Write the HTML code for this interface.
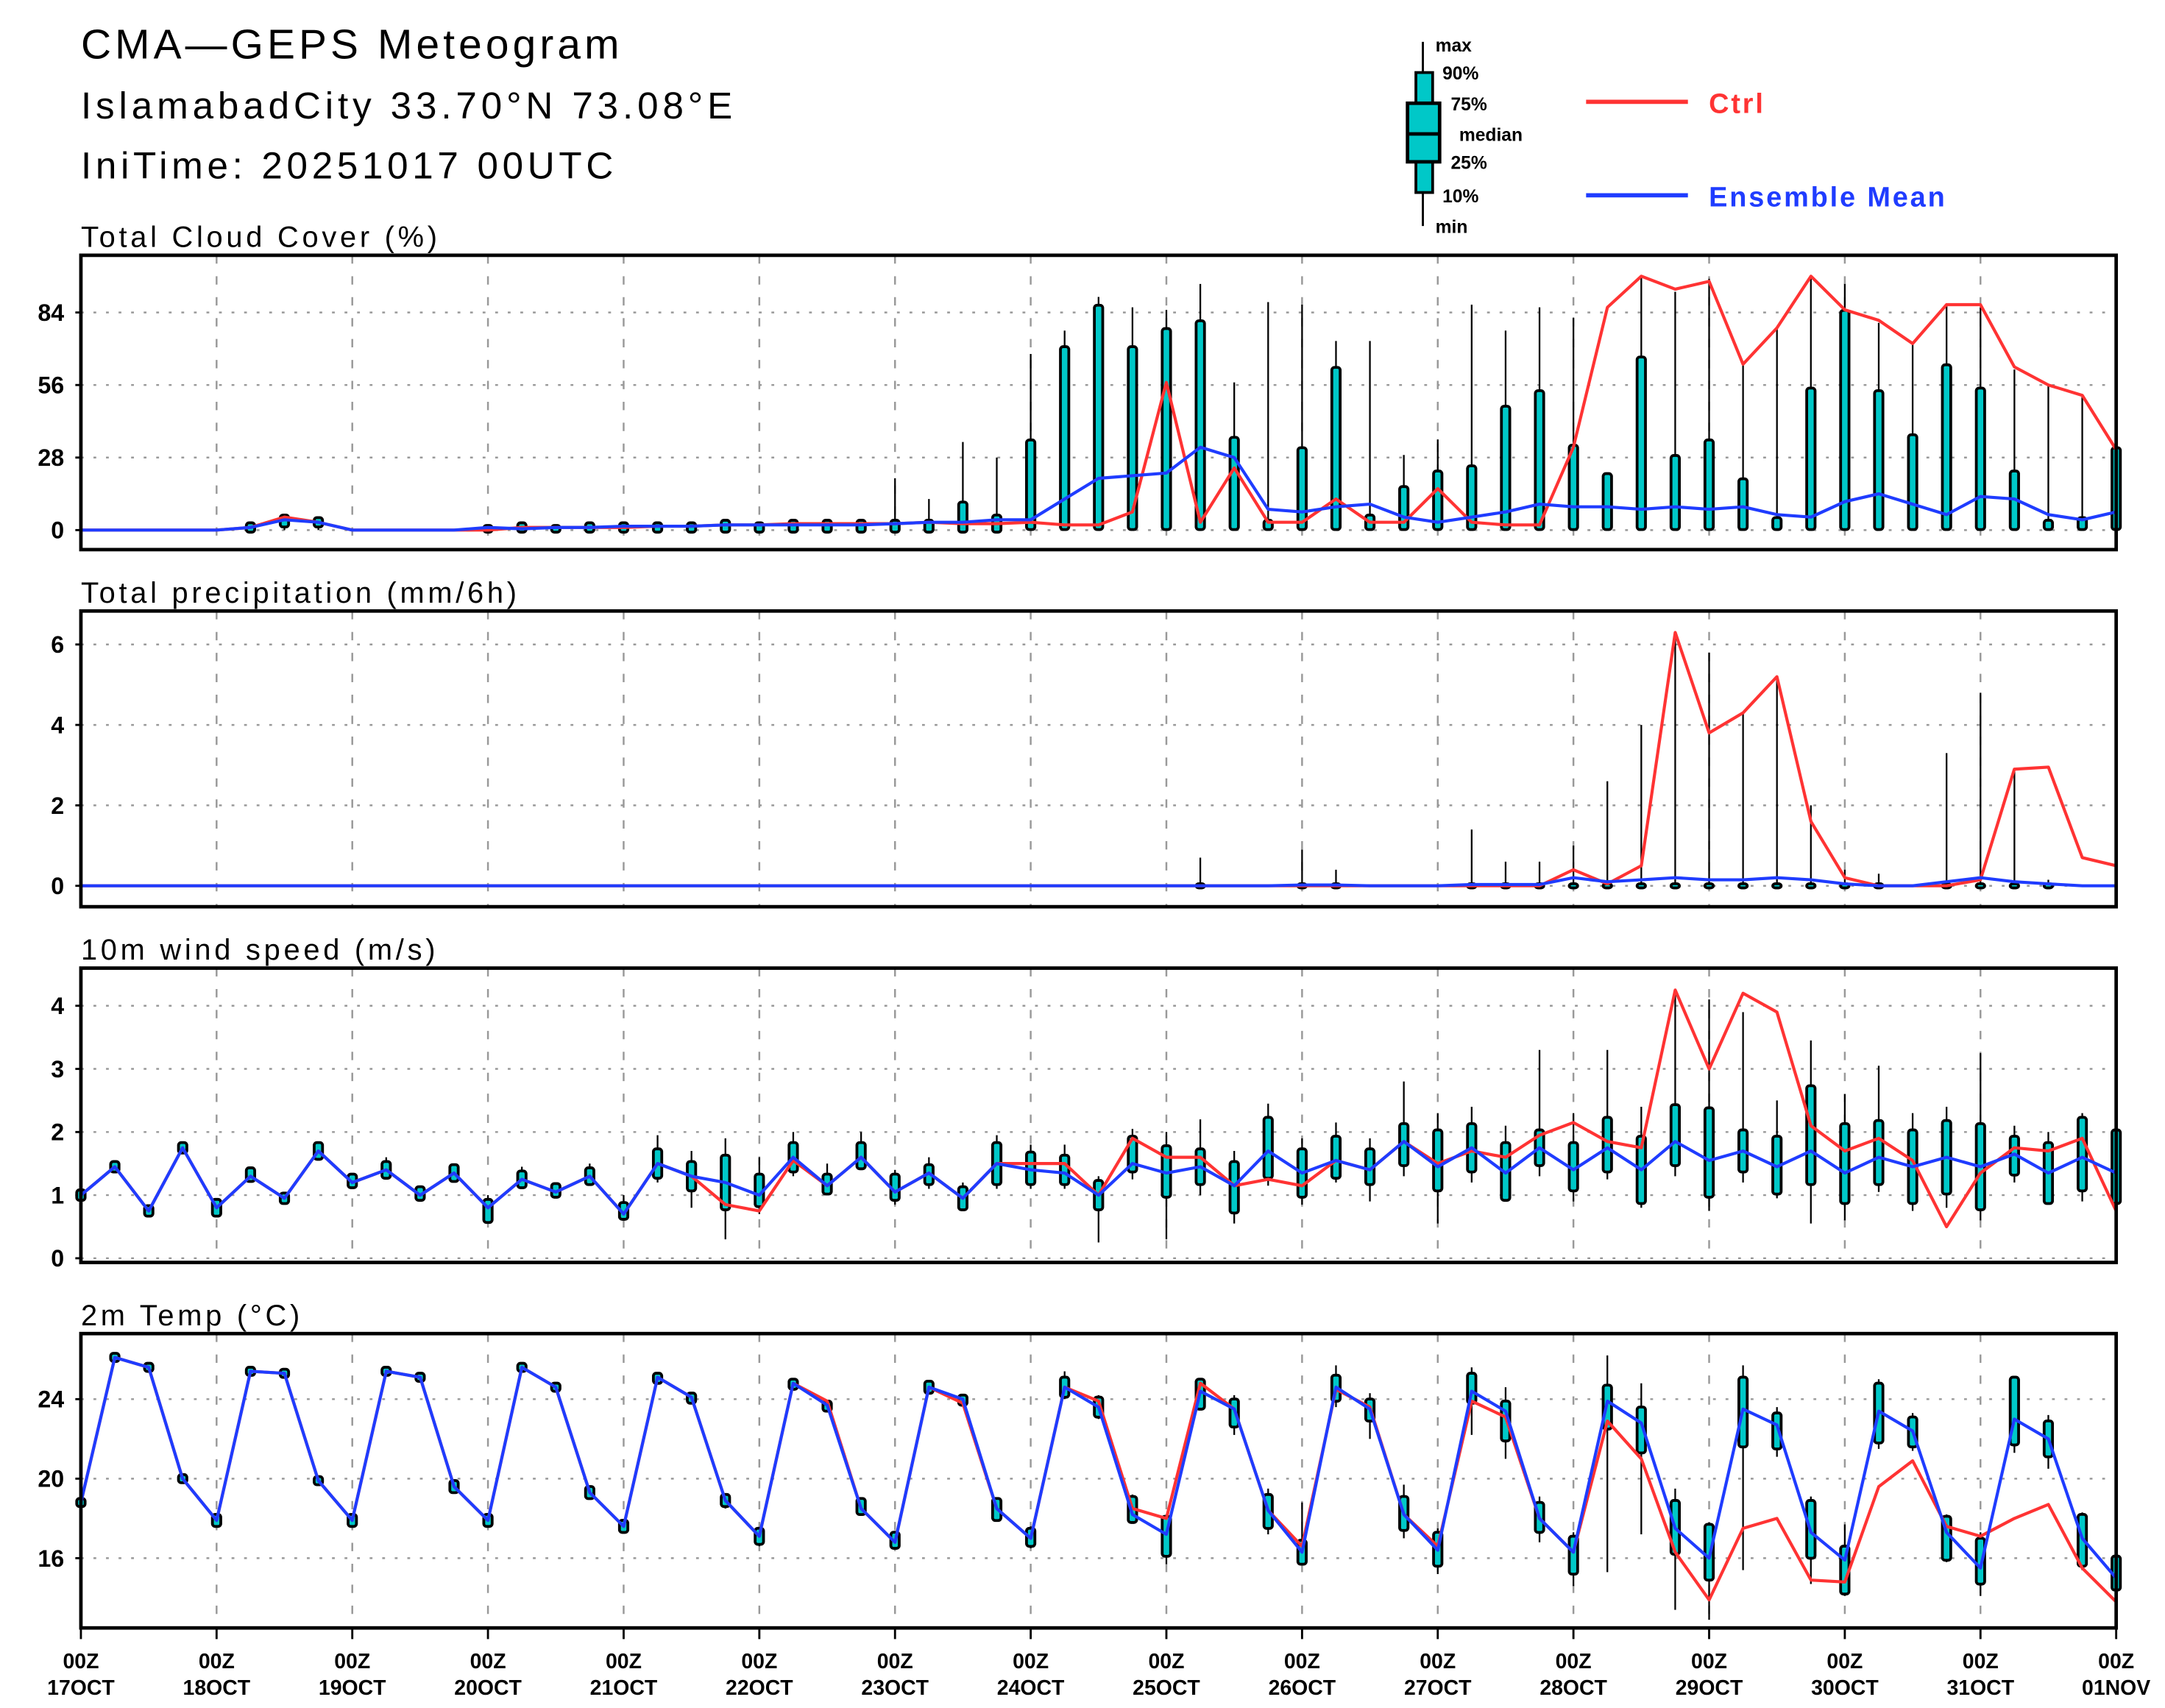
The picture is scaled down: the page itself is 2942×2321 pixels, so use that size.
<!DOCTYPE html>
<html><head><meta charset="utf-8"><style>
html,body{margin:0;padding:0;background:#fff}
svg{display:block}
text{font-family:"Liberation Sans",sans-serif}
</style></head><body>
<svg id="chart" width="2942" height="2321" viewBox="0 0 1552 1224.4" xmlns="http://www.w3.org/2000/svg">
<rect width="1552" height="1224.4" fill="#fff"/>
<g>
<text x="58" y="42" font-size="30" letter-spacing="2.7">CMA—GEPS Meteogram</text>
<text x="58" y="85" font-size="27" letter-spacing="3.1">IslamabadCity 33.70°N 73.08°E</text>
<text x="58" y="128" font-size="27" letter-spacing="3">IniTime: 20251017 00UTC</text>
</g>
<g font-size="13" font-weight="bold">
<line x1="1020" y1="30" x2="1020" y2="162" stroke="#000" stroke-width="1.5"/>
<rect x="1015" y="52" width="12" height="86" fill="#00c8c8" stroke="#000" stroke-width="2"/>
<rect x="1009" y="74" width="23" height="42" fill="#00c8c8" stroke="#000" stroke-width="2.5"/>
<line x1="1009" y1="96" x2="1032" y2="96" stroke="#000" stroke-width="2.5"/>
<text x="1029" y="37">max</text><text x="1034" y="57">90%</text><text x="1040" y="79">75%</text>
<text x="1046" y="101">median</text><text x="1040" y="121">25%</text><text x="1034" y="145">10%</text><text x="1029" y="167">min</text>
<line x1="1137" y1="73" x2="1210" y2="73" stroke="#f33" stroke-width="3"/>
<text x="1225" y="81" fill="#f33" font-size="20" letter-spacing="1.5">Ctrl</text>
<line x1="1137" y1="140" x2="1210" y2="140" stroke="#1f3cff" stroke-width="3"/>
<text x="1225" y="148" fill="#1f3cff" font-size="20" letter-spacing="1.5">Ensemble Mean</text>
</g>
<g id="plots"></g>
</svg>
<script>
const days = ["17OCT","18OCT","19OCT","20OCT","21OCT","22OCT","23OCT","24OCT","25OCT","26OCT","27OCT","28OCT","29OCT","30OCT","31OCT","01NOV"];
// Cloud cover
const cloudCtrl = [0,0,0,0,0,1,5,3,0,0, 0,0,0,1,1,1,1,1.5,1.5,2, 2,2.5,2.5,2.5,2.5,3,2.5,2.5,3,2, 2,7,57,3,24,3,3,12,3,3, 16,3,2,2,32,86,98,93,96,64, 78,98,85,81,72,87,87,63,56,52, 31];
const cloudMean = [0,0,0,0,0,1,4,3,0,0, 0,0,1,0.5,1,1,1.5,1.5,1.5,2, 2,2,2,2,2.5,3,3,4,4,12, 20,21,22,32,28,8,7,9,10,5, 3,5,7,10,9,9,8,9,8,9, 6,5,11,14,10,6,13,12,6,4, 7];
const cloudP90 = [0,0,0,0,0,2,5,4,0,0, 0,0,1,2,1,2,2,2,2,3, 2,3,3,3,3,3,10,5,34,70, 86,70,77,80,35,3,31,62,5,16, 22,24,47,53,32,21,66,28,34,19, 4,54,84,53,36,63,54,22,3,4, 31];
const cloudP10 = [0,0,0,0,0,0,2,2,0,0, 0,0,0,0,0,0,0,0,0,0, 0,0,0,0,0,0,0,0,1,1, 1,1,1,1,1,1,1,1,1,1, 1,1,1,1,1,1,1,1,1,1, 1,1,1,1,1,1,1,1,1,1, 1];
const cloudMax = [0,0,0,0,0,2,5,4,0,0, 0,0,2,2,2,3,2,2,2,3, 3,3,3,3,20,12,34,28,68,77, 90,86,85,95,57,88,87,73,73,29, 35,87,77,86,82,21,98,92,97,64, 78,98,95,80,72,87,86,62,56,52, 31];
// Precipitation
const precCtrl = [0,0,0,0,0,0,0,0,0,0, 0,0,0,0,0,0,0,0,0,0, 0,0,0,0,0,0,0,0,0,0, 0,0,0,0,0,0,0,0,0,0, 0,0,0,0,0.4,0.05,0.5,6.3,3.8,4.3, 5.2,1.6,0.2,0,0,0,0.15,2.9,2.95,0.7, 0.5];
const precMean = [0,0,0,0,0,0,0,0,0,0, 0,0,0,0,0,0,0,0,0,0, 0,0,0,0,0,0,0,0,0,0, 0,0,0,0,0,0,0.02,0.02,0,0, 0,0.03,0.03,0.03,0.2,0.1,0.15,0.2,0.15,0.15, 0.2,0.15,0.05,0,0,0.1,0.2,0.1,0.05,0, 0];
const precMax = [0,0,0,0,0,0,0,0,0,0, 0,0,0,0,0,0,0,0,0,0, 0,0,0,0,0,0,0,0,0,0, 0,0,0,0.7,0,0,0.9,0.4,0,0, 0,1.4,0.6,0.6,1.0,2.6,4.0,6.3,5.8,4.3, 5.2,2.0,0.4,0.3,0,3.3,4.8,2.9,0.15,0, 0];
// Wind
const windCtrl = [1.0,1.45,0.75,1.75,0.8,1.3,0.95,1.7,1.2,1.4, 1.0,1.35,0.8,1.25,1.05,1.3,0.7,1.5,1.3,0.85, 0.75,1.55,1.15,1.6,1.05,1.35,0.95,1.5,1.5,1.5, 1.0,1.9,1.6,1.6,1.15,1.25,1.15,1.55,1.4,1.85, 1.5,1.7,1.6,1.95,2.15,1.85,1.75,4.25,3.0,4.2, 3.9,2.1,1.7,1.9,1.55,0.5,1.35,1.75,1.7,1.9, 0.75];
const windMean = [1.0,1.45,0.75,1.75,0.8,1.3,0.95,1.7,1.2,1.4, 1.0,1.35,0.8,1.25,1.05,1.3,0.7,1.5,1.3,1.2, 1.0,1.6,1.15,1.6,1.05,1.35,0.95,1.5,1.4,1.35, 1.0,1.5,1.35,1.45,1.15,1.7,1.35,1.55,1.4,1.85, 1.45,1.75,1.35,1.75,1.4,1.75,1.4,1.85,1.55,1.7, 1.45,1.7,1.35,1.6,1.45,1.6,1.45,1.65,1.35,1.6, 1.35];
const windP90 = [1.05,1.5,0.8,1.8,0.9,1.4,1.0,1.8,1.3,1.5, 1.1,1.45,0.9,1.35,1.15,1.4,0.85,1.7,1.5,1.6, 1.3,1.8,1.3,1.8,1.3,1.45,1.1,1.8,1.65,1.6, 1.2,1.9,1.75,1.7,1.5,2.2,1.7,1.9,1.7,2.1, 2.0,2.1,1.8,2.0,1.8,2.2,1.9,2.4,2.35,2.0, 1.9,2.7,2.1,2.15,2.0,2.15,2.1,1.9,1.8,2.2, 2.0];
const windP10 = [0.95,1.4,0.7,1.7,0.7,1.25,0.9,1.6,1.15,1.3, 0.95,1.25,0.6,1.15,1.0,1.2,0.65,1.3,1.1,0.8, 0.85,1.4,1.05,1.45,0.95,1.2,0.8,1.2,1.2,1.2, 0.8,1.4,1.0,1.2,0.75,1.3,1.0,1.3,1.2,1.5, 1.1,1.4,0.95,1.5,1.1,1.4,0.9,1.5,1.0,1.4, 1.05,1.2,0.9,1.2,0.9,1.05,0.8,1.35,0.9,1.1, 0.9];
const windMax = [1.05,1.5,0.8,1.85,0.95,1.45,1.05,1.85,1.35,1.6, 1.15,1.5,1.0,1.45,1.2,1.5,1.0,1.95,1.7,1.9, 1.6,2.0,1.5,2.0,1.4,1.6,1.2,1.95,1.8,1.8, 1.3,2.05,2.0,2.2,1.7,2.45,1.9,2.15,1.9,2.8, 2.3,2.4,2.1,3.3,2.3,3.3,2.4,4.2,4.1,3.9, 2.5,3.45,2.6,3.05,2.3,2.4,3.25,2.1,2.0,2.3, 2.2];
const windMin = [0.95,1.4,0.7,1.65,0.65,1.2,0.85,1.55,1.1,1.25, 0.9,1.2,0.55,1.1,0.95,1.15,0.6,1.2,0.8,0.3, 0.7,1.3,1.0,1.4,0.85,1.1,0.75,1.1,1.1,1.1, 0.25,1.25,0.3,1.0,0.55,1.15,0.85,1.2,0.9,1.3, 0.55,1.2,0.9,1.3,0.9,1.25,0.8,1.3,0.75,1.2, 0.95,0.55,0.6,1.05,0.75,0.8,0.6,1.2,0.85,0.9, 0.85];
// Temperature
const tempCtrl = [18.8,26.1,25.6,20.0,17.9,25.4,25.3,19.9,17.9,25.4, 25.1,19.6,17.9,25.6,24.6,19.3,17.6,25.1,24.1,18.9, 17.1,24.8,23.9,18.5,16.8,24.6,23.8,18.5,17.0,24.6, 23.9,18.5,18.0,24.8,23.5,18.4,16.6,24.5,23.6,18.2, 16.6,23.9,23.1,18.0,16.3,22.9,21.0,16.3,13.9,17.5, 18.0,14.9,14.8,19.6,20.9,17.6,17.1,18.0,18.7,15.5, 13.8];
const tempMean = [18.8,26.1,25.6,20.0,17.9,25.4,25.3,19.9,17.9,25.4, 25.1,19.6,17.9,25.6,24.6,19.3,17.6,25.1,24.1,18.9, 17.1,24.8,23.7,18.5,16.8,24.6,24.0,18.5,17.0,24.6, 23.6,18.2,17.2,24.4,23.5,18.4,16.3,24.6,23.5,18.2, 16.4,24.4,23.4,18.0,16.3,23.9,22.8,17.5,16.0,23.5, 22.7,17.3,15.9,23.4,22.4,17.3,15.5,23.0,22.0,17.0, 15.0];
const tempP90 = [18.9,26.2,25.7,20.1,18.1,25.5,25.4,20.0,18.1,25.5, 25.2,19.8,18.1,25.7,24.7,19.5,17.8,25.2,24.2,19.1, 17.4,24.9,23.8,18.9,17.2,24.8,24.1,18.9,17.4,25.0, 24.0,19.0,18.0,24.9,23.9,19.1,16.8,25.1,23.9,19.0, 17.2,25.2,23.8,18.7,17.0,24.6,23.5,18.8,17.6,25.0, 23.2,18.8,16.5,24.7,23.0,18.0,16.9,25.0,22.8,18.1, 16.0];
const tempP10 = [18.7,26.0,25.5,19.9,17.7,25.3,25.2,19.8,17.7,25.3, 25.0,19.4,17.7,25.5,24.5,19.1,17.4,24.9,23.9,18.7, 16.8,24.6,23.5,18.3,16.6,24.4,23.8,18.0,16.7,24.2, 23.2,17.9,16.2,23.6,22.7,17.6,15.8,24.0,23.0,17.5, 15.7,23.9,22.0,17.4,15.3,22.6,21.4,16.3,15.0,21.7, 21.6,16.1,14.3,21.9,21.7,16.0,14.8,21.8,21.2,15.7, 14.5];
const tempMax = [18.9,26.2,25.7,20.1,18.1,25.5,25.4,20.0,18.1,25.5, 25.2,19.8,18.1,25.7,24.7,19.5,17.8,25.2,24.2,19.1, 17.4,24.9,23.8,19.0,17.3,24.9,24.2,19.0,17.6,25.4, 24.2,19.2,18.2,25.0,24.2,19.5,18.8,25.7,24.3,19.7, 17.5,25.6,24.6,19.1,17.3,26.2,24.8,19.5,17.8,25.7, 23.6,19.1,17.7,25.0,23.3,18.2,17.3,25.1,23.2,18.3, 16.2];
const tempMin = [18.7,26.0,25.5,19.9,17.6,25.2,25.1,19.7,17.6,25.2, 24.9,19.3,17.6,25.4,24.4,19.0,17.3,24.8,23.8,18.5, 16.6,24.5,23.4,18.2,16.5,24.3,23.7,17.9,16.5,24.0, 23.0,17.8,15.7,23.5,22.2,17.2,15.7,23.6,22.0,17.0, 15.2,22.2,21.0,16.8,14.6,15.3,17.2,13.4,12.9,15.4, 21.1,14.7,14.1,21.5,21.4,15.8,14.1,21.3,20.5,15.4, 14.0];

const NS='http://www.w3.org/2000/svg';
const X0=58, X1=1517, N=60;
const xs = i => X0 + (X1-X0)*i/N;
const root=document.getElementById('plots');
function mk(tag,attrs,parent){const e=document.createElementNS(NS,tag);for(const k in attrs)e.setAttribute(k,attrs[k]);(parent||root).appendChild(e);return e;}

function panel(name,title,top,bot,yv0,yp0,yv1,yp1,ticks,ctrl,mean,p10,p90,lo,hi,isLast){
  const g=mk('g',{});
  
  
  const ys=v=>yp0+(v-yv0)*(yp1-yp0)/(yv1-yv0);
  const t=mk('text',{x:58,y:top-6,'font-size':21,'letter-spacing':2.5},g);
  
  
  t.textContent=title;
  for(let d=1;d<15;d++){const x=xs(d*4);mk('line',{x1:x,y1:top,x2:x,y2:bot,stroke:'#999','stroke-width':1.3,'stroke-dasharray':'6,9'},g);}
  ticks.forEach(v=>{const y=ys(v);
    mk('line',{x1:X0,y1:y,x2:X1,y2:y,stroke:'#999','stroke-width':1.3,'stroke-dasharray':'2,7'},g);
    mk('line',{x1:X0-4,y1:y,x2:X0,y2:y,stroke:'#000','stroke-width':1.5},g);
    const tl=mk('text',{x:X0-12,y:y+6,'font-size':17,'font-weight':'bold','text-anchor':'end'},g);
    
    
    tl.textContent=String(v);});
  for(let i=0;i<=N;i++){
    if(hi[i]-lo[i]<0.0001 && p90[i]-p10[i]<0.0001) continue;
    const x=xs(i);
    const w=mk('line',{x1:x,y1:ys(lo[i]),x2:x,y2:ys(hi[i]),stroke:'#000','stroke-width':1.2},g);
    
    
    const y1=ys(p90[i]),y2=ys(p10[i]);
    const b=mk('rect',{x:x-3,y:y1-1.5,width:6,height:Math.max(3,y2-y1+3),rx:2,fill:'#00c8c8',stroke:'#000','stroke-width':2},g);
    
    
  }
  const pts=a=>a.map((v,i)=>xs(i).toFixed(1)+','+ys(v).toFixed(1)).join(' ');
  const c=mk('polyline',{points:pts(ctrl),fill:'none',stroke:'#f33','stroke-width':2.2,'stroke-linejoin':'round'},g);
  
  
  const m=mk('polyline',{points:pts(mean),fill:'none',stroke:'#1f3cff','stroke-width':2.2,'stroke-linejoin':'round'},g);
  
  
  const f=mk('rect',{x:X0,y:top,width:X1-X0,height:bot-top,fill:'none',stroke:'#000','stroke-width':2.5},g);
  
  
  if(isLast){
    for(let d=0;d<=15;d++){const x=xs(d*4);
      mk('line',{x1:x,y1:bot,x2:x,y2:bot+8,stroke:'#000','stroke-width':1.5},g);
      const a=mk('text',{x:x,y:1196,'font-size':15,'font-weight':'bold','text-anchor':'middle'},g);
      
      
      a.textContent='00Z';
      const b=mk('text',{x:x,y:1215,'font-size':15,'font-weight':'bold','text-anchor':'middle'},g);
      
      
      b.textContent=days[d];}
  }
}
const zeros=cloudP10.map(()=>0);
panel('cloud-panel','Total Cloud Cover (%)',183,394,0,380,84,224,[0,28,56,84],cloudCtrl,cloudMean,cloudP10,cloudP90,zeros,cloudMax,false);
panel('precip-panel','Total precipitation (mm/6h)',438,650,0,635,6,462,[0,2,4,6],precCtrl,precMean,zeros,zeros,zeros,precMax,false);
panel('wind-panel','10m wind speed (m/s)',694,905,0,902,4,721,[0,1,2,3,4],windCtrl,windMean,windP10,windP90,windMin,windMax,false);
panel('temp-panel','2m Temp (°C)',956,1167,16,1117,24,1003,[16,20,24],tempCtrl,tempMean,tempP10,tempP90,tempMin,tempMax,true);
</script>
</body></html>
